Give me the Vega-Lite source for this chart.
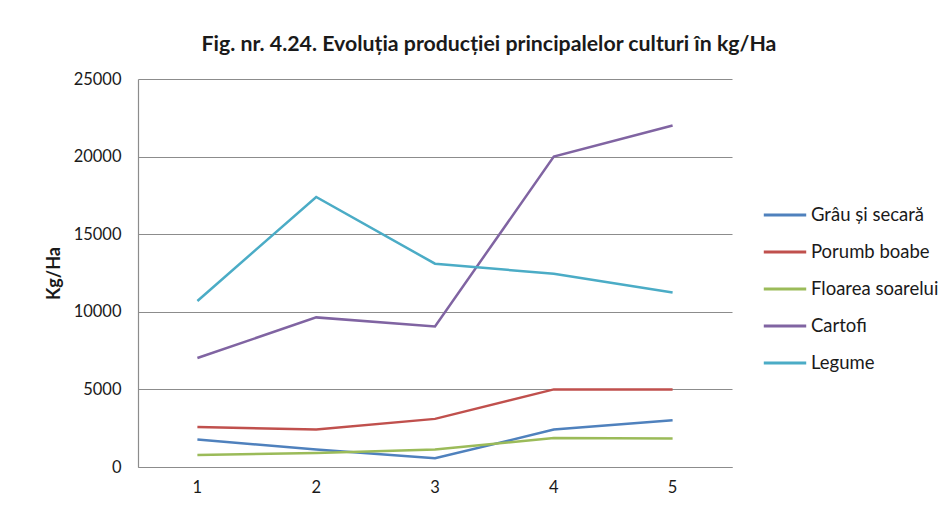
{
  "$schema": "https://vega.github.io/schema/vega-lite/v6.json",
  "width": 594,
  "height": 388,
  "autosize": {"type": "none"},
  "padding": {"left": 138, "top": 79, "right": 220, "bottom": 46},
  "background": "white",
  "title": {
    "text": "Fig. nr. 4.24.  Evoluția producției principalelor culturi în kg/Ha",
    "font": "Lato",
    "fontSize": 21.3,
    "fontWeight": "bold",
    "color": "#1a1a1a",
    "anchor": "middle",
    "dx": 54,
    "offset": 16
  },
  "data": {
    "values": [
      {"an": "1", "cultura": "Grâu și secară", "v": 1770},
      {"an": "2", "cultura": "Grâu și secară", "v": 1120},
      {"an": "3", "cultura": "Grâu și secară", "v": 560},
      {"an": "4", "cultura": "Grâu și secară", "v": 2410},
      {"an": "5", "cultura": "Grâu și secară", "v": 3010},
      {"an": "1", "cultura": "Porumb boabe", "v": 2570},
      {"an": "2", "cultura": "Porumb boabe", "v": 2410},
      {"an": "3", "cultura": "Porumb boabe", "v": 3100},
      {"an": "4", "cultura": "Porumb boabe", "v": 5000},
      {"an": "5", "cultura": "Porumb boabe", "v": 5000},
      {"an": "1", "cultura": "Floarea soarelui", "v": 780},
      {"an": "2", "cultura": "Floarea soarelui", "v": 900},
      {"an": "3", "cultura": "Floarea soarelui", "v": 1120},
      {"an": "4", "cultura": "Floarea soarelui", "v": 1870},
      {"an": "5", "cultura": "Floarea soarelui", "v": 1830},
      {"an": "1", "cultura": "Cartofi", "v": 7020},
      {"an": "2", "cultura": "Cartofi", "v": 9640},
      {"an": "3", "cultura": "Cartofi", "v": 9060},
      {"an": "4", "cultura": "Cartofi", "v": 20000},
      {"an": "5", "cultura": "Cartofi", "v": 22000},
      {"an": "1", "cultura": "Legume", "v": 10700},
      {"an": "2", "cultura": "Legume", "v": 17400},
      {"an": "3", "cultura": "Legume", "v": 13100},
      {"an": "4", "cultura": "Legume", "v": 12450},
      {"an": "5", "cultura": "Legume", "v": 11250}
    ]
  },
  "mark": {"type": "line", "strokeWidth": 2.5},
  "encoding": {
    "x": {
      "field": "an",
      "type": "ordinal",
      "scale": {"type": "band", "paddingInner": 0, "paddingOuter": 0},
      "axis": {
        "title": null,
        "labelAngle": 0,
        "labelFont": "Lato",
        "labelFontSize": 16.5,
        "labelColor": "#1a1a1a",
        "labelPadding": 12,
        "ticks": false,
        "domainColor": "#8c8c8c",
        "domainWidth": 1.2,
        "grid": false
      }
    },
    "y": {
      "field": "v",
      "type": "quantitative",
      "scale": {"domain": [0, 25000], "nice": false},
      "axis": {
        "title": "Kg/Ha",
        "titleFont": "Lato",
        "titleFontSize": 18,
        "titleFontWeight": "bold",
        "titleColor": "#1a1a1a",
        "titlePadding": 10,
        "values": [0, 5000, 10000, 15000, 20000, 25000],
        "format": "d",
        "labelFont": "Lato",
        "labelFontSize": 16.5,
        "labelColor": "#1a1a1a",
        "labelPadding": 17,
        "ticks": false,
        "domainColor": "#8c8c8c",
        "domainWidth": 1.2,
        "gridColor": "#8c8c8c",
        "gridWidth": 1.2
      }
    },
    "color": {
      "field": "cultura",
      "type": "nominal",
      "sort": ["Grâu și secară", "Porumb boabe", "Floarea soarelui", "Cartofi", "Legume"],
      "scale": {
        "domain": ["Grâu și secară", "Porumb boabe", "Floarea soarelui", "Cartofi", "Legume"],
        "range": ["#4F81BD", "#C0504D", "#9BBB59", "#8064A2", "#4BACC6"]
      },
      "legend": {
        "title": null,
        "orient": "none",
        "legendX": 624,
        "legendY": 113,
        "symbolType": "stroke",
        "symbolSize": 1800,
        "symbolStrokeWidth": 3,
        "labelFont": "Lato",
        "labelFontSize": 18.5,
        "labelColor": "#1a1a1a",
        "labelOffset": 3,
        "rowPadding": 4
      }
    }
  },
  "config": {"view": {"stroke": null}}
}
